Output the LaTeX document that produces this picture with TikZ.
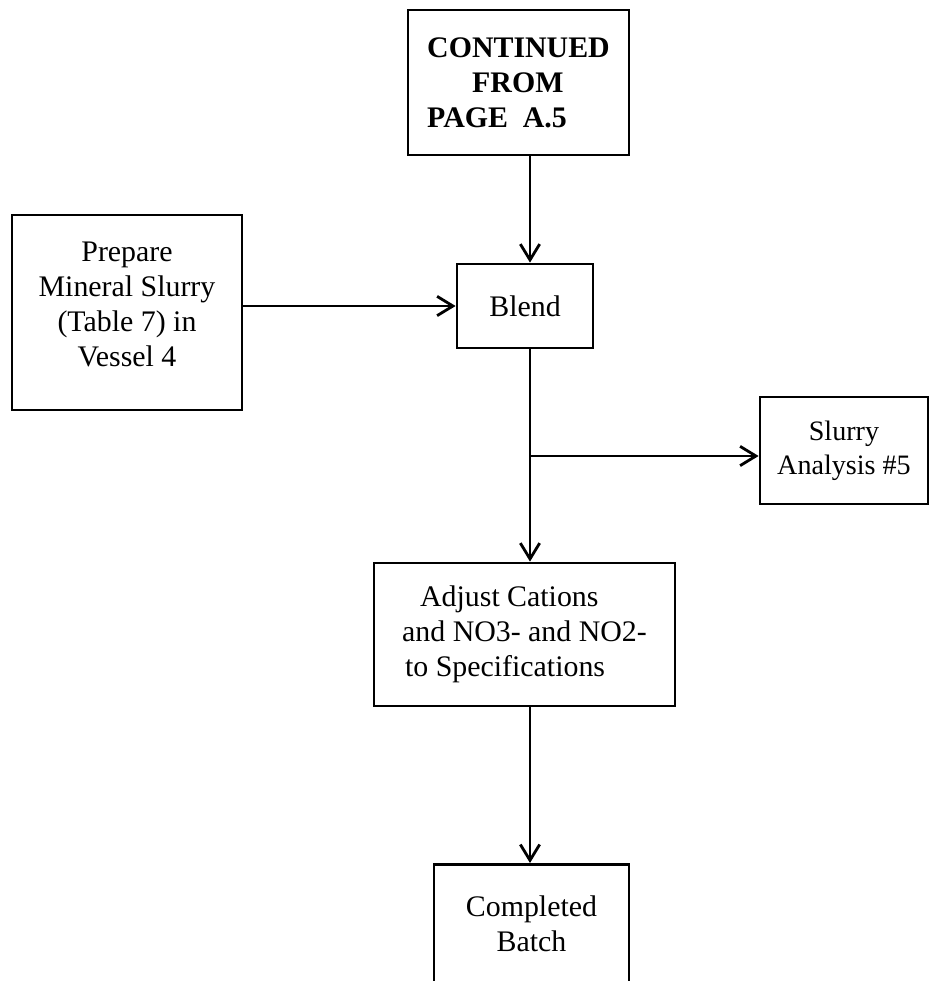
\documentclass[tikz,border=0pt]{standalone}
\usepackage{fontspec}
\setmainfont{Liberation Serif}
\usetikzlibrary{positioning,arrows.meta}

\begin{document}
\begin{tikzpicture}[x=0.02cm,y=-0.02cm,
  procbox/.style={draw, line width=1.6pt, inner sep=0pt, align=center, font=\fontsize{17}{20}\selectfont},
  flow/.style={line width=1.6pt, -{Straight Barb[length=9pt,width=11pt,line width=1.6pt]}}]
\useasboundingbox (0,0) rectangle (930,981);
\clip (0,0) rectangle (930,981);
% boxes
\node[procbox, minimum width=4.42cm, minimum height=2.9cm, align=left, font=\fontsize{17}{20}\selectfont\bfseries] (cont) at (518.5,82.5) {CONTINUED\\\hspace*{0.9cm}FROM\\PAGE~~A.5};
\node[procbox, minimum width=4.6cm, minimum height=3.9cm, text depth=0.32cm] (prep) at (127,312.5) {Prepare\\Mineral Slurry\\(Table 7) in\\Vessel 4};
\node[procbox, minimum width=2.72cm, minimum height=1.68cm] (blend) at (525,306) {Blend};
\node[procbox, minimum width=3.36cm, minimum height=2.14cm, font=\fontsize{16}{19.5}\selectfont] (slurry) at (844,450.5) {Slurry\\Analysis \#5};
\node[procbox, minimum width=6.02cm, minimum height=2.86cm, align=left] (adjust) at (524.5,634.5) {\hspace*{0.36cm}Adjust Cations\\and NO3- and NO2-\\\hspace*{0.06cm}to Specifications};
\node[procbox, minimum width=3.9cm, minimum height=2.6cm, text depth=0.24cm, anchor=north] (done) at (531.5,863) {Completed\\Batch};
% connectors
\coordinate (trunk) at (530,0);
\coordinate (tap) at (530,456);
\draw[flow] (cont.south -| trunk) -- (blend.north -| trunk);
\draw[flow] (prep.east |- blend.west) -- (blend.west);
\draw[flow] (blend.south -| trunk) -- (adjust.north -| trunk);
\draw[flow] (tap) -- (slurry.west |- tap);
\draw[flow] (adjust.south -| trunk) -- (done.north -| trunk);
\end{tikzpicture}
\end{document}
